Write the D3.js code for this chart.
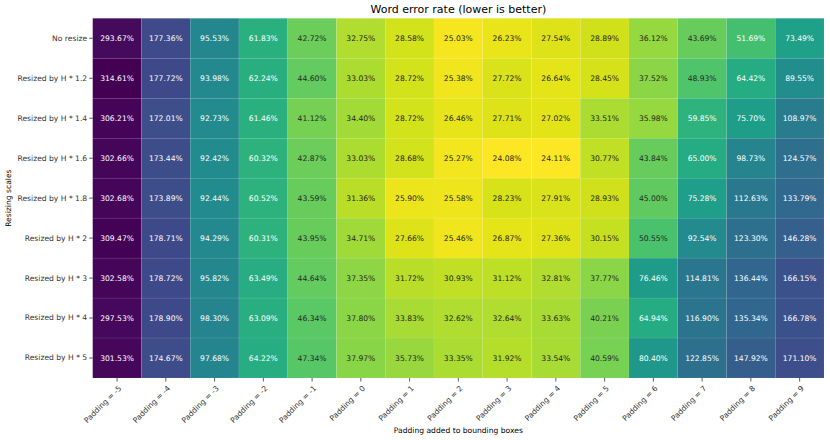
<!DOCTYPE html>
<html>
<head>
<meta charset="utf-8">
<script src="https://cdn.jsdelivr.net/npm/d3@7"></script>
<style>
  body { margin: 0; background: #fff; }
  svg, svg text { font-family: "DejaVu Sans", sans-serif; }
  .axis path { display: none; }
  .axis line { stroke: #333; stroke-width: 0.8; }
  .axis text { fill: #333; font-size: 7.6px; font-family: "DejaVu Sans", sans-serif; }
</style>
</head>
<body>
<svg width="830" height="440"></svg>
<script>
// 행/열 라벨
const scales = ["No resize", "Resized by H * 1.2", "Resized by H * 1.4", "Resized by H * 1.6",
  "Resized by H * 1.8", "Resized by H * 2", "Resized by H * 3", "Resized by H * 4", "Resized by H * 5"];
const paddings = ["Padding = -5", "Padding = -4", "Padding = -3", "Padding = -2", "Padding = -1",
  "Padding = 0", "Padding = 1", "Padding = 2", "Padding = 3", "Padding = 4", "Padding = 5",
  "Padding = 6", "Padding = 7", "Padding = 8", "Padding = 9"];

// 값 (%), 행 = resizing scale
const noResize = [293.67, 177.36, 95.53, 61.83, 42.72, 32.75, 28.58, 25.03, 26.23, 27.54, 28.89, 36.12, 43.69, 51.69, 73.49];
const h12 = [314.61, 177.72, 93.98, 62.24, 44.60, 33.03, 28.72, 25.38, 27.72, 26.64, 28.45, 37.52, 48.93, 64.42, 89.55];
const h14 = [306.21, 172.01, 92.73, 61.46, 41.12, 34.40, 28.72, 26.46, 27.71, 27.02, 33.51, 35.98, 59.85, 75.70, 108.97];
const h16 = [302.66, 173.44, 92.42, 60.32, 42.87, 33.03, 28.68, 25.27, 24.08, 24.11, 30.77, 43.84, 65.00, 98.73, 124.57];
const h18 = [302.68, 173.89, 92.44, 60.52, 43.59, 31.36, 25.90, 25.58, 28.23, 27.91, 28.93, 45.00, 75.28, 112.63, 133.79];
const h2 = [309.47, 178.71, 94.29, 60.31, 43.95, 34.71, 27.66, 25.46, 26.87, 27.36, 30.15, 50.55, 92.54, 123.30, 146.28];
const h3 = [302.58, 178.72, 95.82, 63.49, 44.64, 37.35, 31.72, 30.93, 31.12, 32.81, 37.77, 76.46, 114.81, 136.44, 166.15];
const h4 = [297.53, 178.90, 98.30, 63.09, 46.34, 37.80, 33.83, 32.62, 32.64, 33.63, 40.21, 64.94, 116.90, 135.34, 166.78];
const h5 = [301.53, 174.67, 97.68, 64.22, 47.34, 37.97, 35.73, 33.35, 31.92, 33.54, 40.59, 80.40, 122.85, 147.92, 171.10];

const rows = [noResize, h12, h14, h16, h18, h2, h3, h4, h5];

const cells = [];
rows.forEach((vals, i) => vals.forEach((v, j) => cells.push({ row: scales[i], col: paddings[j], v })));

const svg = d3.select("svg");
const margin = { left: 92.7, top: 18.3, right: 6, bottom: 62 };
const W = 830, H = 440;

const x = d3.scaleBand().domain(paddings).range([margin.left, W - margin.right]);
const y = d3.scaleBand().domain(scales).range([margin.top, H - margin.bottom]);

// 로그 스케일 + viridis 역순
const vmin = d3.min(cells, d => d.v), vmax = d3.max(cells, d => d.v);
const cnorm = d3.scaleLog().domain([vmax, vmin]).range([0, 1]);
const color = v => d3.interpolateViridis(cnorm(v));

svg.append("g").selectAll("rect")
  .data(cells)
  .join("rect")
  .attr("x", d => x(d.col))
  .attr("y", d => y(d.row))
  .attr("width", x.bandwidth())
  .attr("height", y.bandwidth())
  .attr("fill", d => color(d.v))
  .attr("stroke", "rgba(255,255,255,0.12)")
  .attr("stroke-width", 0.5);

svg.append("g").selectAll("text")
  .data(cells)
  .join("text")
  .attr("x", d => x(d.col) + x.bandwidth() / 2)
  .attr("y", d => y(d.row) + y.bandwidth() / 2)
  .attr("dy", "0.35em")
  .attr("text-anchor", "middle")
  .style("font-size", "7.6px")
  .attr("fill", d => d.v > 51 ? "#fff" : "#262626")
  .text(d => d.v.toFixed(2) + "%");

// 축
svg.append("g")
  .attr("class", "axis")
  .attr("transform", `translate(0,${H - margin.bottom})`)
  .call(d3.axisBottom(x).tickSize(3.5).tickPadding(2))
  .selectAll("text")
  .attr("text-anchor", "end")
  .attr("dy", "0.35em")
  .attr("transform", "translate(-1,5) rotate(-45)");

svg.append("g")
  .attr("class", "axis")
  .attr("transform", `translate(${margin.left},0)`)
  .call(d3.axisLeft(y).tickSize(3.5).tickPadding(2));

// 제목/축 라벨
svg.append("text")
  .attr("x", (margin.left + W - margin.right) / 2)
  .attr("y", 13)
  .attr("text-anchor", "middle")
  .style("font-size", "11px")
  .attr("fill", "#000")
  .text("Word error rate (lower is better)");

svg.append("text")
  .attr("x", (margin.left + W - margin.right) / 2)
  .attr("y", 433)
  .attr("text-anchor", "middle")
  .style("font-size", "7.6px")
  .attr("fill", "#000")
  .text("Padding added to bounding boxes");

svg.append("text")
  .attr("transform", `translate(11,${(margin.top + H - margin.bottom) / 2}) rotate(-90)`)
  .attr("text-anchor", "middle")
  .style("font-size", "7.6px")
  .attr("fill", "#000")
  .text("Resizing scales");
</script>
</body>
</html>
